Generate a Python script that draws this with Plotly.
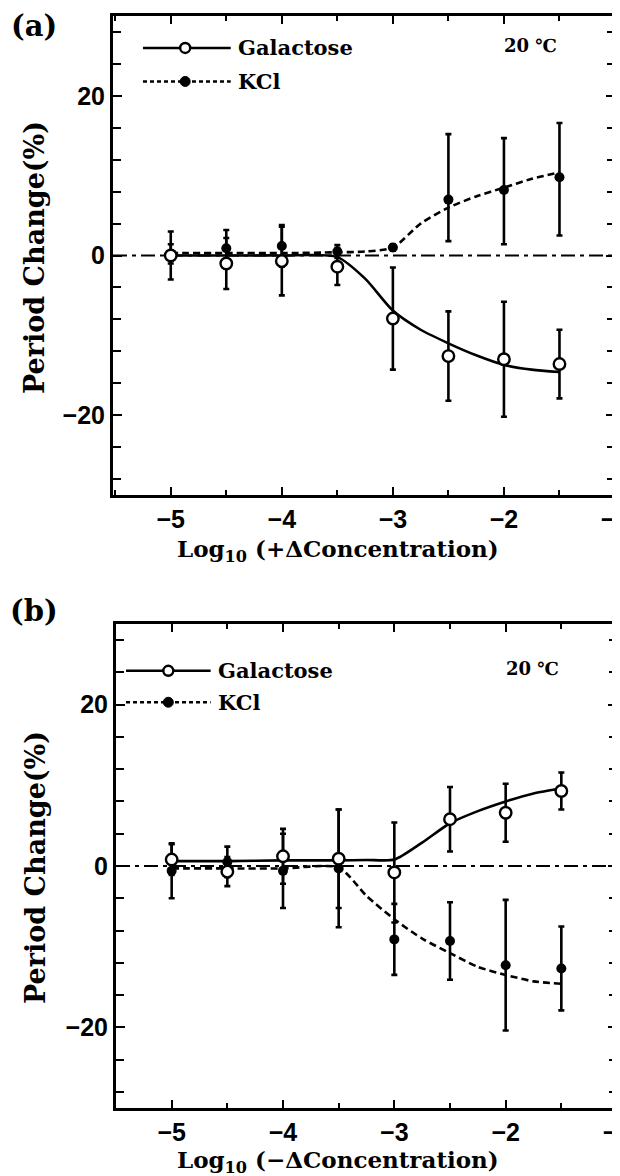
import plotly.graph_objects as go

# ---------------- data ----------------
conc = [-5, -4.5, -4, -3.5, -3, -2.5, -2, -1.5]

# panel (a): +ΔConcentration
gal_a = [0.0, -1.0, -0.7, -1.4, -7.9, -12.6, -13.0, -13.6]
gal_a_err = [3.0, 3.2, 4.3, 2.3, 6.4, 5.6, 7.2, 4.3]
kcl_a = [0.2, 0.9, 1.2, 0.5, 1.0, 7.0, 8.2, 9.8]
kcl_a_err_plus = [1.2, 2.3, 2.6, 0.8, 0.4, 8.2, 6.5, 6.8]
kcl_a_err_minus = [1.2, 2.3, 2.6, 0.8, 0.4, 5.2, 6.8, 7.3]

# panel (b): -ΔConcentration
gal_b = [0.8, -0.7, 1.2, 0.9, -0.8, 5.8, 6.6, 9.3]
gal_b_err = [1.9, 1.8, 3.4, 6.1, 6.2, 4.0, 3.6, 2.3]
kcl_b = [-0.6, 0.5, -0.6, -0.3, -9.1, -9.3, -12.3, -12.7]
kcl_b_err = [3.4, 1.9, 4.6, 7.3, 4.4, 4.8, 8.1, 5.2]

# fitted curves
fit_x = [-5, -4.5, -4, -3.5, -3.25, -3, -2.75, -2.5, -2.25, -2, -1.75, -1.5]
gal_a_fit = [0.0, 0.0, 0.0, -0.2, -2.9, -6.9, -9.3, -11.0, -12.5, -13.7, -14.3, -14.6]
kcl_a_fit = [0.3, 0.3, 0.3, 0.4, 0.5, 1.0, 4.0, 6.0, 7.4, 8.5, 9.6, 10.4]
gal_b_fit = [0.6, 0.6, 0.7, 0.7, 0.75, 0.8, 2.9, 5.3, 6.8, 8.0, 9.0, 9.6]
kcl_b_fit = [-0.3, -0.3, -0.3, -0.2, -3.7, -6.6, -9.0, -10.8, -12.5, -13.5, -14.3, -14.6]

x_major = [-5, -4, -3, -2, -1]
y_major = [-20, 0, 20]
series_names = ["Galactose", "KCl"]
temp_label = "20 \u2103"

# ---------------- figure ----------------
W, H = 620, 1176
fig = go.Figure()

BLACK = "black"
SERIF = "DejaVu Serif"
SANS = "Liberation Sans"

def px_x(p):
    return p / W

def px_y(p):
    return 1 - p / H

panels = [
    dict(xa="x", ya="y", gal=gal_a, gerr=gal_a_err, kcl=kcl_a,
         kerr=kcl_a_err_plus, kerrm=kcl_a_err_minus,
         gfit=gal_a_fit, kfit=kcl_a_fit, xdom=[px_x(105), px_x(607)],
         ydom=[px_y(487), px_y(8)], xr=[-5.52, -1.0], yr=[-30, 30],
         label="(a)", label_y=18, leg_x=[-5.25, -4.87, -4.46, -4.41], leg_y=[26.0, 21.8],
         xtitle="Log<sub>10</sub> (+\u0394Concentration)", xt_y=542, yt_y=250),
    dict(xa="x2", ya="y2", gal=gal_b, gerr=gal_b_err, kcl=kcl_b,
         kerr=kcl_b_err, kerrm=kcl_b_err,
         gfit=gal_b_fit, kfit=kcl_b_fit, xdom=[px_x(108), px_x(609)],
         ydom=[px_y(1100), px_y(616)], xr=[-5.5, -1.0], yr=[-30, 30],
         label="(b)", label_y=603, leg_x=[-5.41, -5.03, -4.65, -4.6], leg_y=[24.2, 20.3],
         xtitle="Log<sub>10</sub> (\u2212\u0394Concentration)", xt_y=1153, yt_y=860),
]

shapes = []
annotations = []
for i, p in enumerate(panels):
    xa, ya = p["xa"], p["ya"]
    # fitted curves
    fig.add_trace(go.Scatter(x=fit_x, y=p["kfit"], mode="lines", xaxis=xa, yaxis=ya,
                             line=dict(color=BLACK, width=2.6, dash="7px,4px", shape="spline", smoothing=0.7),
                             showlegend=False, hoverinfo="skip"))
    fig.add_trace(go.Scatter(x=fit_x, y=p["gfit"], mode="lines", xaxis=xa, yaxis=ya,
                             line=dict(color=BLACK, width=2.6, shape="spline", smoothing=0.7),
                             showlegend=False, hoverinfo="skip"))
    # KCl points
    fig.add_trace(go.Scatter(x=conc, y=p["kcl"], mode="markers", xaxis=xa, yaxis=ya,
                             marker=dict(symbol="circle", size=10, color=BLACK),
                             error_y=dict(type="data", array=p["kerr"], arrayminus=p["kerrm"],
                                          symmetric=False, visible=True,
                                          color=BLACK, thickness=2.6, width=3),
                             showlegend=False, name=series_names[1]))
    # Galactose points
    fig.add_trace(go.Scatter(x=conc, y=p["gal"], mode="markers", xaxis=xa, yaxis=ya,
                             marker=dict(symbol="circle", size=11.5, color="white",
                                         line=dict(color=BLACK, width=2.4)),
                             error_y=dict(type="data", array=p["gerr"], visible=True,
                                          color=BLACK, thickness=2.6, width=3),
                             showlegend=False, name=series_names[0]))

    # zero dash-dot line
    shapes.append(dict(type="line", xref=f"{xa} domain", yref=ya, x0=0, x1=1, y0=0, y1=0,
                       line=dict(color=BLACK, width=2.2, dash="14px,5px,4px,5px"), layer="below"))
    # custom legend
    lx0, lm, lx1, lt = p["leg_x"]
    r1, r2 = p["leg_y"]
    shapes.append(dict(type="line", xref=xa, yref=ya, x0=lx0, x1=lx1, y0=r1, y1=r1,
                       line=dict(color=BLACK, width=2.4)))
    shapes.append(dict(type="circle", xref=xa, yref=ya, xsizemode="pixel", ysizemode="pixel",
                       xanchor=lm, yanchor=r1, x0=-5, x1=5, y0=-5, y1=5,
                       fillcolor="white", line=dict(color=BLACK, width=2.4)))
    shapes.append(dict(type="line", xref=xa, yref=ya, x0=lx0, x1=lx1, y0=r2, y1=r2,
                       line=dict(color=BLACK, width=2.4, dash="4px,3px")))
    shapes.append(dict(type="circle", xref=xa, yref=ya, xsizemode="pixel", ysizemode="pixel",
                       xanchor=lm, yanchor=r2, x0=-5, x1=5, y0=-5, y1=5,
                       fillcolor=BLACK, line=dict(color=BLACK, width=1)))
    for txt, ry in zip(series_names, [r1, r2]):
        annotations.append(dict(text=f"<b>{txt}</b>", xref=xa, yref=ya, x=lt, y=ry,
                                xanchor="left", yanchor="middle", showarrow=False,
                                font=dict(family=SERIF, size=21, color=BLACK)))
    annotations.append(dict(text=f"<b>{temp_label}</b>", xref=xa, yref=ya, x=-1.5, y=r1 + 0.3,
                            xanchor="right", yanchor="middle", showarrow=False,
                            font=dict(family=SERIF, size=18, color=BLACK)))
    # panel label
    annotations.append(dict(text=f"<b>{p['label']}</b>", xref="paper", yref="paper",
                            x=px_x(26), y=px_y(p["label_y"]), xanchor="center", yanchor="middle",
                            showarrow=False, font=dict(family=SERIF, size=29, color=BLACK)))
    # axis titles
    annotations.append(dict(text=f"<b>{p['xtitle']}</b>", xref="paper", yref="paper",
                            x=px_x(330), y=px_y(p["xt_y"]), xanchor="center", yanchor="middle",
                            showarrow=False, font=dict(family=SERIF, size=23, color=BLACK)))
    annotations.append(dict(text="<b>Period Change(%)</b>", xref="paper", yref="paper",
                            x=px_x(27), y=px_y(p["yt_y"]), xanchor="center", yanchor="middle",
                            textangle=-90, showarrow=False,
                            font=dict(family=SERIF, size=27, color=BLACK)))

    axis_common = dict(showline=True, linecolor=BLACK, linewidth=3, mirror="ticks",
                       showgrid=False, zeroline=False, ticks="inside", tickcolor=BLACK,
                       tickwidth=2.4, automargin=False,
                       tickfont=dict(family=SANS, size=25, color=BLACK, weight="bold"))
    xk = "xaxis" if i == 0 else "xaxis2"
    yk = "yaxis" if i == 0 else "yaxis2"
    fig.update_layout({
        xk: dict(axis_common, domain=p["xdom"], range=p["xr"], anchor=ya,
                 tickvals=x_major, ticktext=[f"\u2212{abs(v)}" for v in x_major], ticklen=8,
                 ticklabeloverflow="allow",
                 minor=dict(dtick=0.5, tick0=0, ticks="inside", ticklen=5, tickwidth=2.2,
                            tickcolor=BLACK, showgrid=False)),
        yk: dict(axis_common, domain=p["ydom"], range=p["yr"], anchor=xa,
                 tickvals=y_major, ticktext=[("\u2212" if v < 0 else "") + str(abs(v)) for v in y_major],
                 ticklen=9,
                 minor=dict(dtick=4, tick0=0, ticks="inside", ticklen=8, tickwidth=2.4,
                            tickcolor=BLACK, showgrid=False)),
    })

fig.update_layout(width=W, height=H, margin=dict(l=0, r=0, t=0, b=0),
                  paper_bgcolor="white", plot_bgcolor="white",
                  shapes=shapes, annotations=annotations, showlegend=False)

fig.write_html("out.html")
